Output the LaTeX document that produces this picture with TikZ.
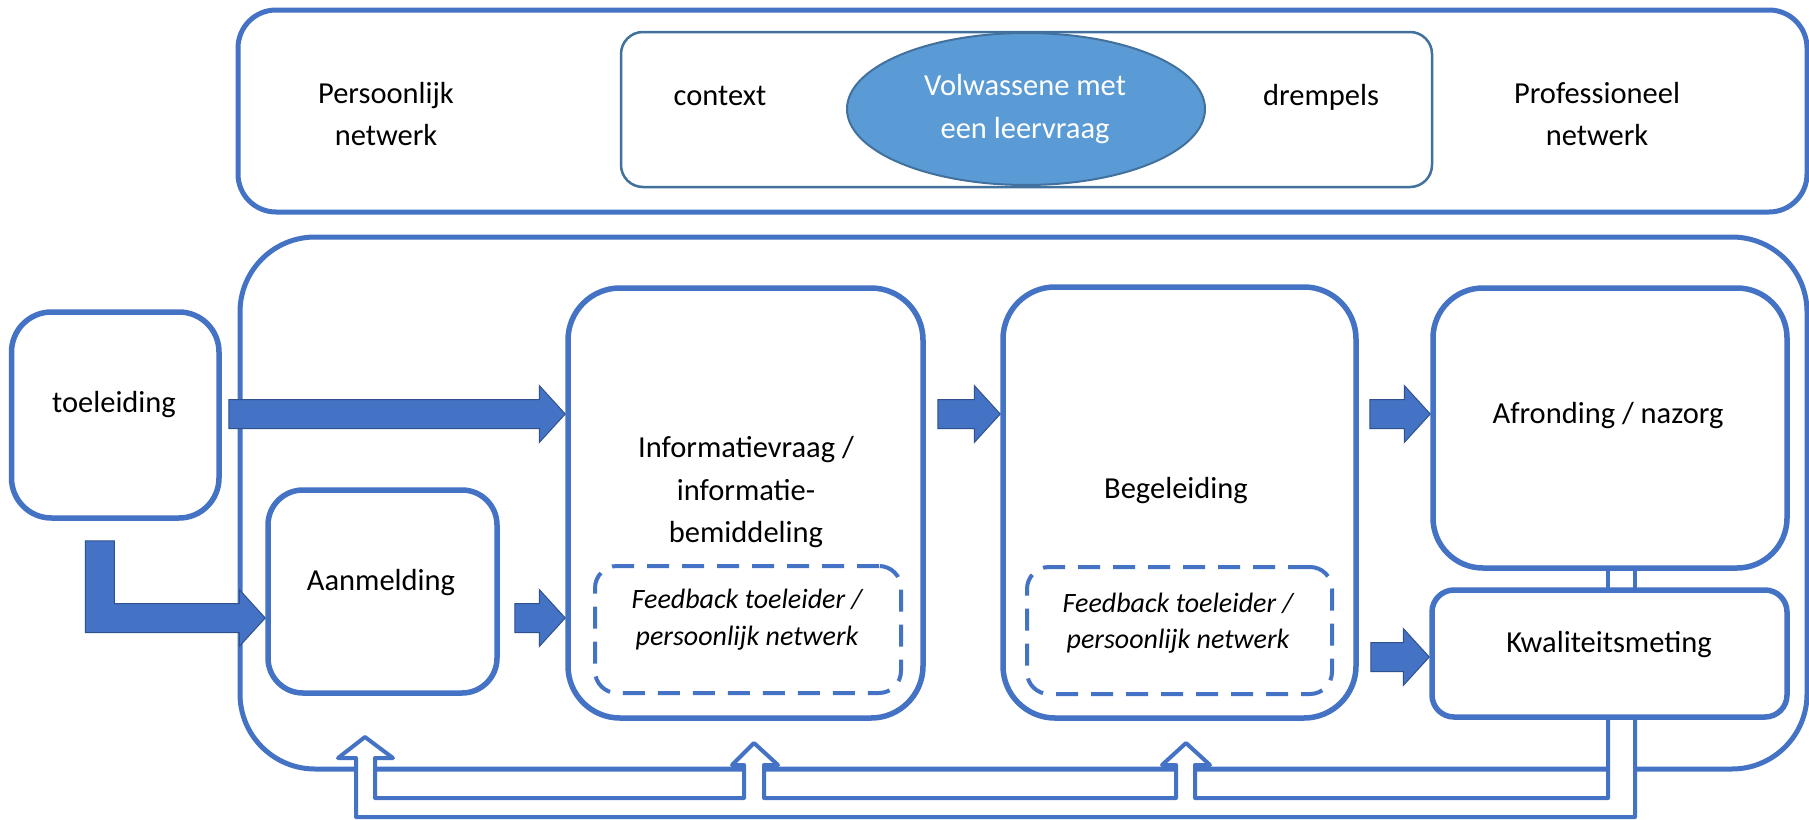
\documentclass[tikz,border=0pt]{standalone}
\usepackage{fontspec}
\setmainfont{Carlito}
\usetikzlibrary{calc,shapes.geometric}
\definecolor{obl}{HTML}{4472C4}
\definecolor{dbl}{HTML}{2F528F}
\definecolor{ebl}{HTML}{5B9BD5}
\definecolor{gbl}{HTML}{41719C}
\newcommand\rbox[7]{\node[#1, rounded corners=#7, minimum width={#4-#2}, minimum height={#5-#3}] (#6) at ({(#2+#4)/2},{(#3+#5)/2}) {};}
\newcommand\blockarrow[2]{%
  \path[barrow] let \p1=#1, \p2=#2 in
  (\x1,\y2+14.5pt) -- (\x2-26pt,\y2+14.5pt) -- (\x2-26pt,\y2+28.5pt) -- (\x2,\y2)
  -- (\x2-26pt,\y2-28.5pt) -- (\x2-26pt,\y2-14.5pt) -- (\x1,\y2-14.5pt) -- cycle;}
\begin{document}
\begin{tikzpicture}[x=1pt,y=-1pt,
  lbl/.style={font=\fontsize{30.5}{36}\selectfont, anchor=base, inner sep=0pt},
  ilbl/.style={lbl, font=\fontsize{28}{34}\selectfont\itshape},
  wlbl/.style={lbl, text=white},
  frame/.style={draw=obl, line width=5pt, inner sep=0pt},
  bx/.style={draw=obl, line width=5.5pt, fill=white, inner sep=0pt},
  dbx/.style={draw=obl, line width=4pt, dash pattern=on 22pt off 13pt, inner sep=0pt},
  ibx/.style={draw=gbl, line width=2.5pt, inner sep=0pt},
  barrow/.style={fill=obl, draw=dbl, line width=1pt, line join=miter},
  pipe/.style={draw=obl, line width=4pt, fill=white, line join=round}]
\useasboundingbox (0,0) rectangle (1809,819);
\fill[white] (0,0) rectangle (1809,819);

% top band
\rbox{frame}{238}{10}{1807}{212}{top}{38}
\rbox{ibx}{621}{32}{1432}{187}{inner}{22}
\node[ellipse, draw=gbl, line width=2pt, fill=ebl, minimum width=358, minimum height=152, inner sep=0pt] (ell) at (1026,109) {};

% main container
\rbox{frame}{240}{237}{1807}{769}{cont}{75}

% pipes
\path[pipe] (1608,566) rectangle (1635,592);
\path[pipe] (365,737) -- (393,758) -- (375,758) -- (375,798) -- (744,798) -- (744,765)
  -- (732,765) -- (754,743) -- (778,765) -- (764,765) -- (764,798) -- (1176,798)
  -- (1176,765) -- (1162,765) -- (1186,743) -- (1210,765) -- (1195,765) -- (1195,798)
  -- (1608,798) -- (1608,717) -- (1635,717) -- (1635,817) -- (356,817) -- (356,758)
  -- (338,758) -- cycle;

% boxes
\rbox{bx}{11.5}{312}{219}{518}{toel}{40}
\rbox{bx}{268}{490}{497}{693}{aanm}{35}
\rbox{bx}{568}{288}{923}{718}{info}{52}
\rbox{bx}{1003}{287}{1356}{718}{beg}{52}
\rbox{bx}{1433}{288}{1787}{568}{afr}{50}
\rbox{bx}{1432}{590}{1787}{717}{kwal}{22}
\rbox{dbx}{595}{566}{901}{693}{fb1}{22}
\rbox{dbx}{1027}{567}{1332}{694}{fb2}{22}

% row coordinates
\coordinate (rowA) at (0,414);
\coordinate (rowB) at (0,618);
\coordinate (rowC) at (0,657);

% block arrows
\blockarrow{($(toel.east)+(7,0)$)}{(info.west |- rowA)}
\blockarrow{($(info.east)+(12,0)$)}{(beg.west |- rowA)}
\blockarrow{($(beg.east)+(11,0)$)}{(afr.west |- rowA)}
\blockarrow{($(aanm.east)+(15,0)$)}{(info.west |- rowB)}
\blockarrow{($(beg.east)+(12,0)$)}{(kwal.west |- rowC)}
\path[barrow] let \p1=(toel.south), \p2=(aanm.west |- rowB) in
  (\x1-30pt,\y1-20pt) -- (\x1-1pt,\y1-20pt) -- (\x1-1pt,\y2+14.5pt) -- (\x2-26pt,\y2+14.5pt)
  -- (\x2-26pt,\y2+28.5pt) -- (\x2,\y2) -- (\x2-26pt,\y2-28.5pt) -- (\x2-26pt,\y2-14.5pt)
  -- (\x1-30pt,\y2-14.5pt) -- cycle;

% texts
\node[lbl] (tpn1) at (386,103) {Persoonlijk};
\node[lbl] (tpn2) at (386,145) {netwerk};
\node[lbl] (tctx) at (720,105) {context};
\node[wlbl] (tvol1) at (1025,95) {Volwassene met};
\node[wlbl] (tvol2) at (1025,138) {een leervraag};
\node[lbl] (tdre) at (1321,105) {drempels};
\node[lbl] (tprn1) at (1597,103) {Professioneel};
\node[lbl] (tprn2) at (1597,145) {netwerk};
\node[lbl] (ttoe) at (114,412) {toeleiding};
\node[lbl] (taan) at (381,590) {Aanmelding};
\node[lbl] (tinf1) at (746,457) {Informatievraag /};
\node[lbl] (tinf2) at (746,500) {informatie-};
\node[lbl] (tinf3) at (746,542) {bemiddeling};
\node[ilbl] (tfb11) at (747,608) {Feedback toeleider /};
\node[ilbl] (tfb12) at (747,645) {persoonlijk netwerk};
\node[lbl] (tbeg) at (1176,498) {Begeleiding};
\node[ilbl] (tfb21) at (1178,612) {Feedback toeleider /};
\node[ilbl] (tfb22) at (1178,648) {persoonlijk netwerk};
\node[lbl] (tafr) at (1608,423) {Afronding / nazorg};
\node[lbl] (tkwa) at (1609,652) {Kwaliteitsmeting};
\end{tikzpicture}
\end{document}
